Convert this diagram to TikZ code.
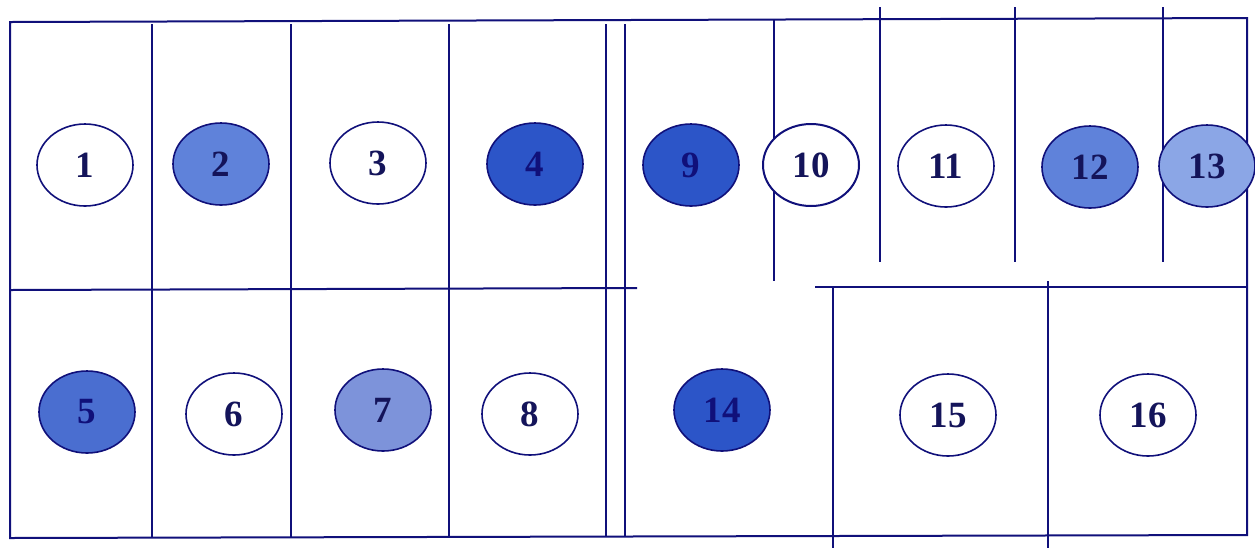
\documentclass[tikz,border=0pt]{standalone}
\usepackage{fontspec}
\setmainfont{Liberation Serif}
\usetikzlibrary{shapes.geometric}
\definecolor{navy}{HTML}{10107A}
\definecolor{txt}{HTML}{14145A}
\definecolor{bmid}{HTML}{5F82DA}
\definecolor{bdark}{HTML}{2C55C8}
\definecolor{blight}{HTML}{8BA6E6}
\definecolor{btex}{HTML}{4A6ED0}
\definecolor{btex7}{HTML}{7D93DA}
\tikzset{
  wall/.style={draw=navy, line width=1pt},
  well/.style={ellipse, draw=navy, line width=0.8pt, minimum width=48pt, minimum height=41pt, inner sep=0pt,
    font=\fontsize{18.5}{18.5}\selectfont\bfseries, text=txt},
}
\begin{document}
\begin{tikzpicture}[x=0.5pt,y=-0.5pt]
\useasboundingbox (0,0) rectangle (1255,548);
\fill[white] (0,0) rectangle (1255,548);
% outer frame
\draw[wall] (10,22) -- (1247,18) -- (1247,535) -- (10,538) -- cycle;
% full-height verticals
\foreach \x in {152,291,449,606,625}{\draw[wall] (\x,24) -- (\x,537);}
% top row partial verticals
\draw[wall] (774,20) -- (774,281);
\foreach \x in {880,1015,1163}{\draw[wall] (\x,7) -- (\x,262);}
% middle horizontals
\draw[wall] (10,290) -- (637,288);
\draw[wall] (815,287) -- (1247,287);
% bottom right verticals
\draw[wall] (833,287) -- (833,548);
\draw[wall] (1048,281) -- (1048,548);
% wells top row
\node[well, fill=white] (e1) at (85,165) {1};
\node[well, fill=bmid] (e2) at (221,164) {2};
\node[well, fill=white] (e3) at (378,163) {3};
\node[well, fill=bdark, text=navy] (e4) at (535,164) {4};
\node[well, fill=bdark, text=navy] (e9) at (691,165) {9};
\node[well, fill=white, line width=1pt] (e10) at (811,165) {10};
\node[well, fill=white] (e11) at (946,166) {11};
\node[well, fill=bmid] (e12) at (1090,167) {12};
\node[well, fill=blight] (e13) at (1207,166) {13};
% wells bottom row
\node[well, fill=btex, text=navy] (e5) at (87,412) {5};
\node[well, fill=white] (e6) at (234,414) {6};
\node[well, fill=btex7] (e7) at (383,410) {7};
\node[well, fill=white] (e8) at (530,414) {8};
\node[well, fill=bdark, text=navy] (e14) at (722,410) {14};
\node[well, fill=white] (e15) at (948,415) {15};
\node[well, fill=white] (e16) at (1148,415) {16};
\end{tikzpicture}
\end{document}
